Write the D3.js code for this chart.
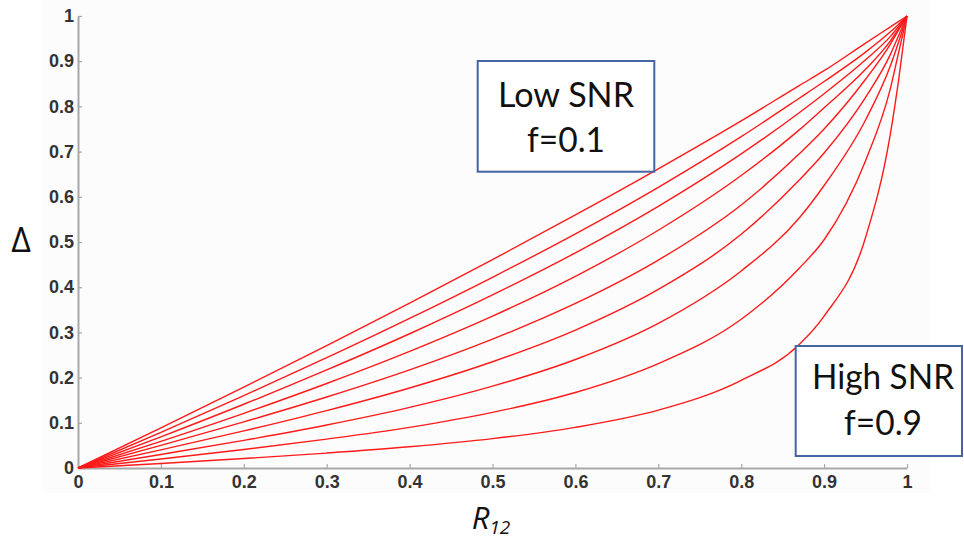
<!DOCTYPE html>
<html>
<head>
<meta charset="utf-8">
<script src="https://cdn.jsdelivr.net/npm/d3@7"></script>
<style>
  html, body { margin: 0; padding: 0; background: #fff; }
  svg { display: block; }
</style>
</head>
<body>
<div id="chart"></div>
<script>
// R12 sample points (x axis)
const rValues = [0, 0.1, 0.2, 0.3, 0.4, 0.5, 0.6, 0.7, 0.8, 0.87, 0.9, 0.95, 0.98, 0.99, 1];
// one curve per f (f = 0.1 top ... f = 0.9 bottom)
const deltaF1 = [0, 0.089, 0.179, 0.271, 0.365, 0.461, 0.560, 0.662, 0.768, 0.846, 0.879, 0.940, 0.976, 0.988, 1];
const deltaF2 = [0, 0.079, 0.160, 0.244, 0.331, 0.422, 0.518, 0.621, 0.733, 0.818, 0.855, 0.920, 0.965, 0.982, 1];
const deltaF3 = [0, 0.069, 0.141, 0.217, 0.297, 0.383, 0.476, 0.579, 0.695, 0.786, 0.828, 0.903, 0.955, 0.977, 1];
const deltaF4 = [0, 0.059, 0.121, 0.187, 0.258, 0.336, 0.424, 0.526, 0.647, 0.748, 0.797, 0.882, 0.945, 0.972, 1];
const deltaF5 = [0, 0.050, 0.102, 0.157, 0.217, 0.285, 0.364, 0.460, 0.582, 0.695, 0.750, 0.860, 0.938, 0.969, 1];
const deltaF6 = [0, 0.040, 0.082, 0.127, 0.177, 0.235, 0.305, 0.395, 0.517, 0.637, 0.697, 0.820, 0.915, 0.957, 1];
const deltaF7 = [0, 0.030, 0.061, 0.095, 0.134, 0.181, 0.240, 0.320, 0.436, 0.553, 0.625, 0.770, 0.890, 0.943, 1];
const deltaF8 = [0, 0.020, 0.041, 0.064, 0.090, 0.123, 0.167, 0.231, 0.329, 0.442, 0.505, 0.680, 0.840, 0.920, 1];
const deltaF9 = [0, 0.010, 0.021, 0.033, 0.047, 0.065, 0.090, 0.128, 0.194, 0.273, 0.336, 0.510, 0.740, 0.860, 1];
const tickValues = [0, 0.1, 0.2, 0.3, 0.4, 0.5, 0.6, 0.7, 0.8, 0.9, 1];
const tickLabels = ['0', '0.1', '0.2', '0.3', '0.4', '0.5', '0.6', '0.7', '0.8', '0.9', '1'];

const series = [deltaF1, deltaF2, deltaF3, deltaF4, deltaF5, deltaF6, deltaF7, deltaF8, deltaF9];

var width = 964
var height = 541

var svg = d3.select('#chart')
  .append('svg')
  .attr('width', width)
  .attr('height', height)

// faint figure background
svg.append('rect')
  .attr('x', 42).attr('y', 0)
  .attr('width', 888).attr('height', 493)
  .attr('fill', '#fcfcfc')

var x = d3.scaleLinear().domain([0, 1]).range([78, 907])
var y = d3.scaleLinear().domain([0, 1]).range([468, 16])

var fmt = function(d, i) { return tickLabels[i] }

// axes, ticks pointing inward like the original
svg.append('g')
  .attr('transform', 'translate(0,' + y(0) + ')')
  .call(d3.axisBottom(x).tickValues(tickValues).tickFormat(fmt).tickSizeInner(-4).tickSizeOuter(0).tickPadding(7))

svg.append('g')
  .attr('transform', 'translate(' + x(0) + ',0)')
  .call(d3.axisLeft(y).tickValues(tickValues).tickFormat(fmt).tickSizeInner(-4).tickSizeOuter(0).tickPadding(4))

svg.selectAll('.domain').attr('stroke', '#a8a8a8').attr('stroke-width', 2)
svg.selectAll('.tick line').attr('stroke', '#a8a8a8').attr('stroke-width', 1.2)
svg.selectAll('.tick text')
  .attr('fill', '#333')
  .style('font-family', '"Liberation Sans", Arial, sans-serif')
  .style('font-size', '18px')
  .style('font-weight', 'bold')

// curves
var line = d3.line()
  .x(function(d, i) { return x(rValues[i]) })
  .y(function(d) { return y(d) })
  .curve(d3.curveMonotoneX)

svg.append('g')
  .selectAll('path')
  .data(series)
  .enter()
  .append('path')
  .attr('d', line)
  .attr('fill', 'none')
  .attr('stroke', '#ff1a1a')
  .attr('stroke-width', 1.4)

// axis titles
svg.append('text')
  .attr('x', 21).attr('y', 252)
  .attr('text-anchor', 'middle')
  .style('font-family', '"Open Sans", "DejaVu Sans", sans-serif')
  .style('font-size', '34px')
  .attr('fill', '#111')
  .text('Δ')

var xt = svg.append('text')
  .attr('x', 491).attr('y', 529)
  .attr('text-anchor', 'middle')
  .style('font-family', '"Open Sans", sans-serif')
  .style('font-style', 'italic')
  .style('font-size', '31px')
  .attr('fill', '#111')
xt.append('tspan').text('R')
xt.append('tspan').attr('dy', 5).style('font-size', '19px').text('12')

// annotation boxes
var notes = [
  {x0: 477.7, y0: 61, x1: 654.3, y1: 171.7, cx: 566, lines: ['Low SNR', 'f=0.1'], base: [106.7, 151.7], w: [136, 78]},
  {x0: 795.7, y0: 346, x1: 962, y1: 456, cx: 883, lines: ['High SNR', 'f=0.9'], base: [389.3, 435], w: [142, 78]}
]

notes.forEach(function(n) {
  svg.append('rect')
    .attr('x', n.x0).attr('y', n.y0)
    .attr('width', n.x1 - n.x0).attr('height', n.y1 - n.y0)
    .attr('fill', '#fff')
    .attr('stroke', '#4465a0')
    .attr('stroke-width', 2)
  n.lines.forEach(function(t, i) {
    svg.append('text')
      .attr('x', n.cx).attr('y', n.base[i])
      .attr('text-anchor', 'middle')
      .attr('textLength', n.w[i])
      .attr('lengthAdjust', 'spacingAndGlyphs')
      .style('font-family', 'Lato, "Open Sans", sans-serif')
      .style('font-size', '35px')
      .attr('fill', '#111')
      .text(t)
  })
})
</script>
</body>
</html>
